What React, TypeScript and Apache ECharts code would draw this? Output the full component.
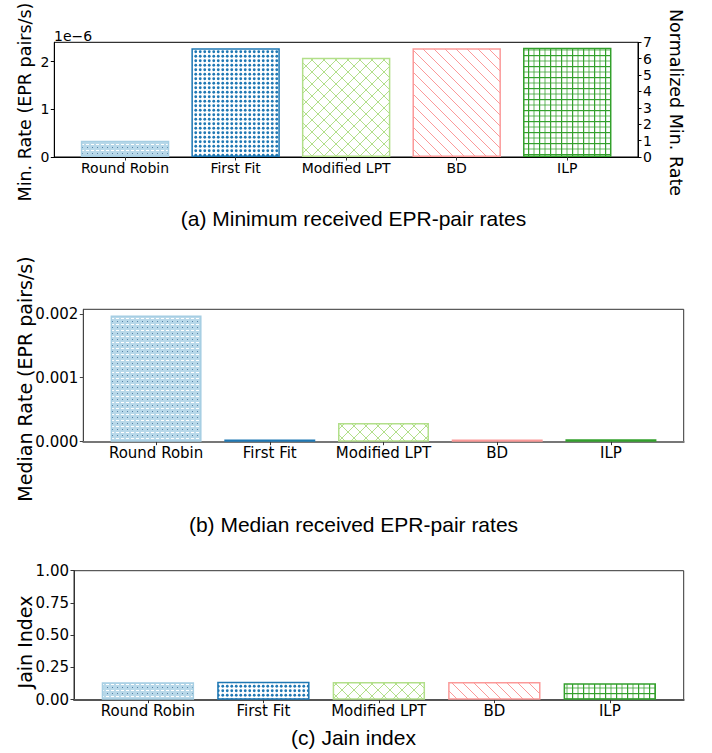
import React, { useEffect, useRef } from 'react';
import * as echarts from 'echarts';

const categories = ['Round Robin', 'First Fit', 'Modified LPT', 'BD', 'ILP'];
const minRate = [0.342e-6, 2.279e-6, 2.082e-6, 2.279e-6, 2.291e-6];
const medianRate = [0.001973, 0.000035, 0.000291, 0.000035, 0.000038];
const jainIndex = [0.136, 0.14, 0.138, 0.138, 0.128];
const minRateTicks = [0, 1e-6, 2e-6];
const normTicks = [0, 1, 2, 3, 4, 5, 6, 7];
const medianTicks = [0, 0.001, 0.002];
const jainTicks = [0, 0.25, 0.5, 0.75, 1];
const catPositions = [0, 1, 2, 3, 4];
const colors = ['#a6cee3', '#1f78b4', '#b2df8a', '#fb9a99', '#33a02c'];
const titles = [
  '(a) Minimum received EPR-pair rates',
  '(b) Median received EPR-pair rates',
  '(c) Jain index',
];
const yNames = ['Min. Rate (EPR pairs/s)', 'Median Rate (EPR pairs/s)', 'Jain Index'];
const rightName = 'Normalized Min. Rate';

function makePattern(w: number, h: number, draw: (ctx: CanvasRenderingContext2D, w: number, h: number) => void) {
  const c = document.createElement('canvas');
  c.width = w;
  c.height = h;
  const ctx = c.getContext('2d') as CanvasRenderingContext2D;
  ctx.fillStyle = '#ffffff';
  ctx.fillRect(0, 0, w, h);
  draw(ctx, w, h);
  return { image: c, repeat: 'repeat' } as any;
}

function buildPatterns() {
  const rr = makePattern(5, 6, (ctx, w, h) => {
    ctx.fillStyle = 'rgba(166,206,227,0.8)';
    ctx.fillRect(0, 0, w, h);
    ctx.fillStyle = '#ffffff';
    ctx.fillRect(1, 0, 3, 1);
    ctx.fillStyle = 'rgba(60,110,150,0.8)';
    ctx.fillRect(2, 3, 1, 1);
  });
  const ff = makePattern(9, 9, (ctx) => {
    ctx.fillStyle = colors[1];
    const pts = [[2.25, 2.25], [6.75, 2.25], [2.25, 6.75], [6.75, 6.75]];
    pts.forEach(([x, y]) => {
      ctx.beginPath();
      ctx.arc(x, y, 1.4, 0, Math.PI * 2);
      ctx.fill();
    });
  });
  const mlpt = makePattern(12, 12, (ctx, w, h) => {
    ctx.strokeStyle = colors[2];
    ctx.lineWidth = 1;
    for (const dx of [-w, 0, w]) {
      ctx.beginPath();
      ctx.moveTo(dx - 1, -1);
      ctx.lineTo(dx + w + 1, h + 1);
      ctx.stroke();
      ctx.beginPath();
      ctx.moveTo(dx + w + 1, -1);
      ctx.lineTo(dx - 1, h + 1);
      ctx.stroke();
    }
  });
  const bd = makePattern(11, 11, (ctx, w, h) => {
    ctx.strokeStyle = colors[3];
    ctx.lineWidth = 1;
    for (const dx of [-w, 0, w]) {
      ctx.beginPath();
      ctx.moveTo(dx - 1, -1);
      ctx.lineTo(dx + w + 1, h + 1);
      ctx.stroke();
    }
  });
  const ilp = makePattern(11, 11, (ctx) => {
    ctx.fillStyle = colors[4];
    ctx.fillRect(0, 0, 1.2, 11);
    ctx.fillRect(0, 0, 11, 1.2);
    ctx.globalAlpha = 0.75;
    ctx.fillRect(5.5, 0, 1, 11);
    ctx.fillRect(0, 5.5, 11, 1);
    ctx.globalAlpha = 1;
  });
  return [rr, ff, mlpt, bd, ilp];
}

const grids = [
  { left: 54.3, top: 42.3, width: 583.7, height: 114.7 },
  { left: 83.3, top: 309.3, width: 600.4, height: 132.4 },
  { left: 74, top: 570.7, width: 609.7, height: 129 },
];

export default function App() {
  const ref = useRef<HTMLDivElement>(null);
  useEffect(() => {
    if (!ref.current) return;
    const chart = echarts.init(ref.current, undefined, { renderer: 'svg' });
    const patterns = buildPatterns();
    const tickFont = 'DejaVu Sans';

    const mkX = (gi: number, fs: number, lineColor: string, lineW: number) => ({
      type: 'value',
      gridIndex: gi,
      min: -0.64,
      max: 4.64,
      splitLine: { show: false },
      axisLine: { show: true, onZero: false, lineStyle: { color: lineColor, width: lineW } },
      axisTick: { show: true, length: 3.5, customValues: catPositions, lineStyle: { color: '#333' } },
      axisLabel: {
        show: true,
        customValues: catPositions,
        formatter: (v: number) => categories[Math.round(v)],
        fontFamily: tickFont,
        fontSize: fs,
        color: '#000',
        margin: 4,
      },
    });

    const mkY = (gi: number, min: number, max: number, ticks: number[], fmt: (v: number) => string, fs: number, lineColor: string, position = 'left') => ({
      type: 'value',
      gridIndex: gi,
      position,
      min,
      max,
      splitLine: { show: false },
      axisLine: { show: true, onZero: false, lineStyle: { color: lineColor } },
      axisTick: { show: true, length: 3.5, customValues: ticks, lineStyle: { color: lineColor } },
      axisLabel: {
        customValues: ticks,
        formatter: fmt,
        fontFamily: tickFont,
        fontSize: fs,
        color: '#000',
        margin: 5,
      },
    });

    const mkSeries = (values: number[], gi: number) => ({
      type: 'bar',
      xAxisIndex: gi,
      yAxisIndex: gi === 0 ? 0 : gi + 1,
      barWidth: '80%',
      data: values.map((v, k) => ({
        value: [catPositions[k], v],
        itemStyle: { color: patterns[k], borderColor: colors[k], borderWidth: 1.5 },
      })),
    });

    const text = (t: string, x: number, y: number, fs: number, fam: string, rot = 0, align = 'center') => ({
      type: 'text',
      x,
      y,
      rotation: rot,
      style: {
        text: t,
        fill: '#000',
        fontSize: fs,
        fontFamily: fam,
        align,
        verticalAlign: 'middle',
        textAlign: align,
        textVerticalAlign: 'middle',
      },
    });

    const option: any = {
      animation: false,
      backgroundColor: '#ffffff',
      grid: grids.map((g, i) => ({
        ...g,
        show: true,
        borderColor: i === 0 ? '#000' : '#333',
        borderWidth: 1,
        backgroundColor: 'transparent',
        containLabel: false,
      })),
      xAxis: [mkX(0, 14, '#000', 1), mkX(1, 15, '#777', 2), mkX(2, 15, '#555', 2)],
      yAxis: [
        mkY(0, 0, 2.406e-6, minRateTicks, (v) => String(Math.round(v / 1e-6)), 14, '#000'),
        mkY(0, 0, 7, normTicks, (v) => String(Math.round(v)), 14, '#000', 'right'),
        mkY(1, 0, 0.00207, medianTicks, (v) => v.toFixed(3), 15, '#444'),
        mkY(2, 0, 1, jainTicks, (v) => v.toFixed(2), 15, '#333'),
      ],
      series: [mkSeries(minRate, 0), mkSeries(medianRate, 1), mkSeries(jainIndex, 2)],
      graphic: [
        text('1e\u22126', 54, 36, 14, tickFont, 0, 'left'),
        text(yNames[0], 25, 102, 17.5, tickFont, Math.PI / 2),
        text(yNames[1], 25, 379, 19, tickFont, Math.PI / 2),
        text(yNames[2], 25, 642, 19, tickFont, Math.PI / 2),
        text(rightName, 676, 102.5, 17.5, tickFont, -Math.PI / 2),
        text(titles[0], 353.5, 218, 21, 'Liberation Sans'),
        text(titles[1], 353.5, 524, 21, 'Liberation Sans'),
        text(titles[2], 353.5, 737, 21, 'Liberation Sans'),
      ],
    };
    chart.setOption(option);
    return () => chart.dispose();
  }, []);
  return <div ref={ref} style={{ position: 'absolute', left: 0, top: 0, width: 712, height: 753 }} />;
}
